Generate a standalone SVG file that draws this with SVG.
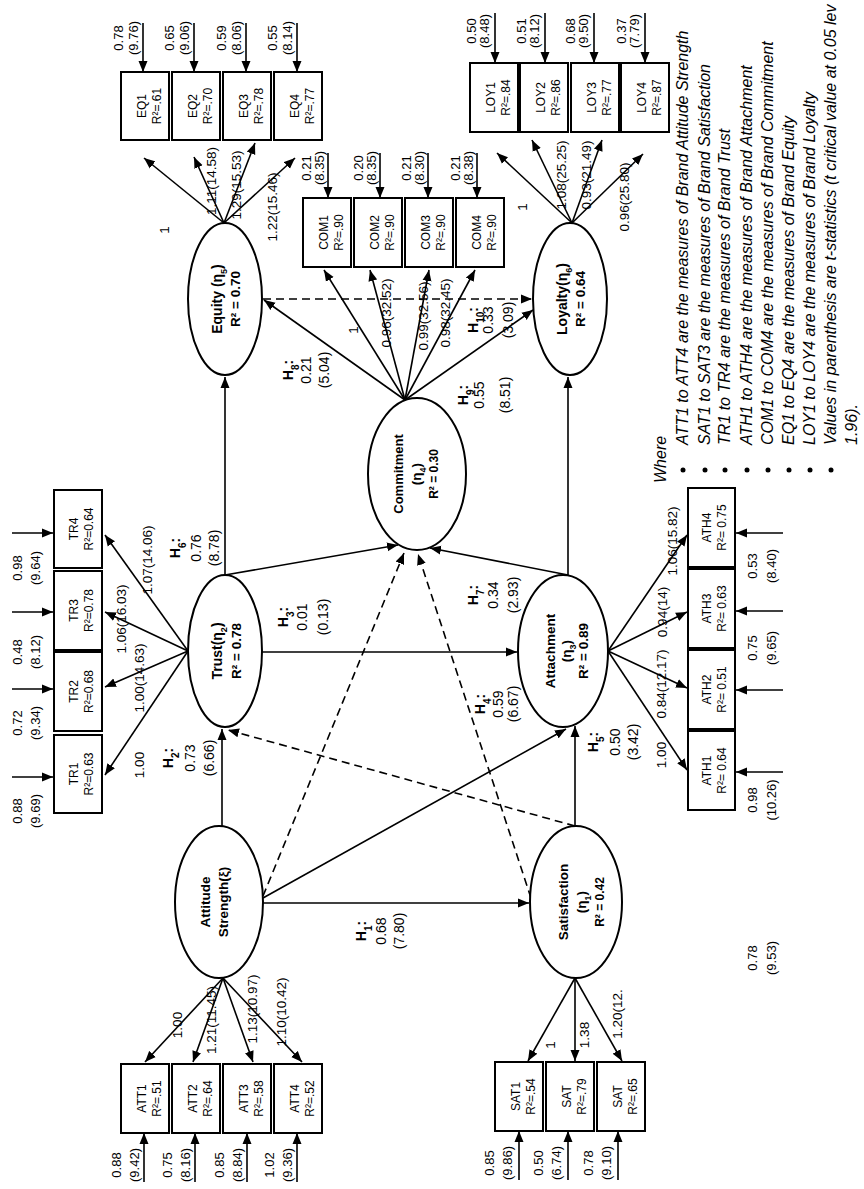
<svg xmlns="http://www.w3.org/2000/svg" width="864" height="1189" viewBox="0 0 864 1189">
<defs>
<style>
.ln{stroke:#000;stroke-width:1.6;fill:none;marker-end:url(#ah)}
.ds{stroke-dasharray:8 5}
.bx{fill:#fff;stroke:#000;stroke-width:2}
.el{fill:#fff;stroke:#000;stroke-width:2}
text{font-family:"Liberation Sans",Arial,sans-serif;fill:#000}
.bt{font-size:12px;text-anchor:middle}
.ld{font-size:13.5px;text-anchor:middle}
.er{font-size:13px;text-anchor:middle}
.hl{font-size:14px;text-anchor:middle}
.hb{font-weight:bold}
.et{font-size:13.5px;font-weight:bold;text-anchor:middle}
.lg{font-size:16px;font-style:italic}
</style>
<marker id="ah" viewBox="0 0 11 10" refX="11" refY="5" markerWidth="11" markerHeight="10" markerUnits="userSpaceOnUse" orient="auto"><path d="M0,0.5 L11,5 L0,9.5 z" fill="#000"/></marker>
</defs>
<rect width="864" height="1189" fill="#fff"/>

<g id="connectors">
<!-- structural paths -->
<line class="ln" x1="225" y1="575" x2="225" y2="377"/>
<line class="ln" x1="568" y1="576" x2="568" y2="377"/>
<line class="ln" x1="225" y1="575" x2="398" y2="545"/>
<line class="ln" x1="568" y1="575" x2="430" y2="548"/>
<line class="ln" x1="262" y1="652" x2="517" y2="652"/>
<line class="ln" x1="222" y1="826" x2="222" y2="729"/>
<line class="ln" x1="575" y1="826" x2="575" y2="726"/>
<line class="ln" x1="263" y1="898" x2="566" y2="729"/>
<line class="ln" x1="263" y1="903" x2="529" y2="903"/>
<line class="ln" x1="405" y1="400" x2="264" y2="300"/>
<line class="ln" x1="405" y1="400" x2="533" y2="310"/>
<line class="ln ds" x1="263" y1="299" x2="532" y2="299"/>
<line class="ln ds" x1="263" y1="896" x2="404" y2="553"/>
<line class="ln ds" x1="531" y1="898" x2="418" y2="554"/>
<line class="ln ds" x1="575" y1="826" x2="228" y2="730"/>
<!-- loadings -->
<line class="ln" x1="224" y1="223" x2="144" y2="158"/>
<line class="ln" x1="224" y1="223" x2="194" y2="157"/>
<line class="ln" x1="224" y1="223" x2="255" y2="143"/>
<line class="ln" x1="224" y1="223" x2="295" y2="158"/>
<line class="ln" x1="572" y1="223" x2="497" y2="153"/>
<line class="ln" x1="572" y1="223" x2="532" y2="140"/>
<line class="ln" x1="572" y1="223" x2="602" y2="140"/>
<line class="ln" x1="572" y1="223" x2="643" y2="154"/>
<line class="ln" x1="405" y1="400" x2="324" y2="270"/>
<line class="ln" x1="405" y1="400" x2="370" y2="270"/>
<line class="ln" x1="405" y1="400" x2="429" y2="270"/>
<line class="ln" x1="405" y1="400" x2="475" y2="270"/>
<line class="ln" x1="188" y1="651" x2="105" y2="535"/>
<line class="ln" x1="188" y1="651" x2="105" y2="612"/>
<line class="ln" x1="188" y1="651" x2="105" y2="687"/>
<line class="ln" x1="188" y1="651" x2="105" y2="775"/>
<line class="ln" x1="608" y1="651" x2="687" y2="535"/>
<line class="ln" x1="608" y1="651" x2="687" y2="612"/>
<line class="ln" x1="608" y1="651" x2="687" y2="688"/>
<line class="ln" x1="608" y1="651" x2="687" y2="770"/>
<line class="ln" x1="223" y1="978" x2="145" y2="1062"/>
<line class="ln" x1="223" y1="978" x2="193" y2="1062"/>
<line class="ln" x1="223" y1="978" x2="253" y2="1062"/>
<line class="ln" x1="223" y1="978" x2="302" y2="1062"/>
<line class="ln" x1="575" y1="978" x2="528" y2="1061"/>
<line class="ln" x1="575" y1="978" x2="575" y2="1061"/>
<line class="ln" x1="575" y1="978" x2="622" y2="1061"/>
<!-- error terms -->
<line class="ln" x1="143" y1="23" x2="143" y2="72"/>
<line class="ln" x1="194" y1="23" x2="194" y2="72"/>
<line class="ln" x1="246" y1="23" x2="246" y2="72"/>
<line class="ln" x1="297" y1="23" x2="297" y2="72"/>
<line class="ln" x1="495" y1="13" x2="495" y2="63"/>
<line class="ln" x1="545" y1="13" x2="545" y2="63"/>
<line class="ln" x1="594" y1="13" x2="594" y2="63"/>
<line class="ln" x1="645" y1="13" x2="645" y2="63"/>
<line class="ln" x1="328" y1="153" x2="328" y2="198"/>
<line class="ln" x1="380" y1="153" x2="380" y2="198"/>
<line class="ln" x1="428" y1="153" x2="428" y2="198"/>
<line class="ln" x1="477" y1="153" x2="477" y2="198"/>
<line class="ln" x1="12" y1="533" x2="53" y2="533"/>
<line class="ln" x1="12" y1="612" x2="53" y2="612"/>
<line class="ln" x1="12" y1="689" x2="53" y2="689"/>
<line class="ln" x1="12" y1="777" x2="53" y2="777"/>
<line class="ln" x1="783" y1="533" x2="736" y2="533"/>
<line class="ln" x1="783" y1="611" x2="736" y2="611"/>
<line class="ln" x1="783" y1="690" x2="736" y2="690"/>
<line class="ln" x1="783" y1="772" x2="736" y2="772"/>
<line class="ln" x1="144" y1="1182" x2="144" y2="1133"/>
<line class="ln" x1="195" y1="1182" x2="195" y2="1133"/>
<line class="ln" x1="247" y1="1182" x2="247" y2="1133"/>
<line class="ln" x1="297" y1="1182" x2="297" y2="1133"/>
<line class="ln" x1="519" y1="1180" x2="519" y2="1131"/>
<line class="ln" x1="568" y1="1180" x2="568" y2="1131"/>
<line class="ln" x1="618" y1="1180" x2="618" y2="1131"/>
</g>

<g id="connector-labels">
<!-- path coefficients -->
<text class="hl" transform="translate(293,370) rotate(-90)"><tspan x="0" y="0" class="hb">H<tspan baseline-shift="sub" font-size="10">8</tspan>:</tspan><tspan x="0" y="18">0.21</tspan><tspan x="0" y="36">(5.04)</tspan></text>
<text class="hl" transform="translate(468,395) rotate(-90)"><tspan x="0" y="0" class="hb">H<tspan baseline-shift="sub" font-size="10">9</tspan>:</tspan><tspan x="0" y="16">0.55</tspan><tspan x="0" y="42">(8.51)</tspan></text>
<text class="hl" transform="translate(478,320) rotate(-90)"><tspan x="0" y="0" class="hb">H<tspan baseline-shift="sub" font-size="10">10</tspan>:</tspan><tspan x="0" y="15">0.33</tspan><tspan x="0" y="35">(3.09)</tspan></text>
<text class="hl" transform="translate(180,548) rotate(-90)"><tspan x="0" y="0" class="hb">H<tspan baseline-shift="sub" font-size="10">6</tspan>:</tspan><tspan x="0" y="21">0.76</tspan><tspan x="0" y="39">(8.78)</tspan></text>
<text class="hl" transform="translate(288,617) rotate(-90)"><tspan x="0" y="0" class="hb">H<tspan baseline-shift="sub" font-size="10">3</tspan>:</tspan><tspan x="0" y="19">0.01</tspan><tspan x="0" y="40">(0.13)</tspan></text>
<text class="hl" transform="translate(478,595) rotate(-90)"><tspan x="0" y="0" class="hb">H<tspan baseline-shift="sub" font-size="10">7</tspan>:</tspan><tspan x="0" y="20">0.34</tspan><tspan x="0" y="40">(2.93)</tspan></text>
<text class="hl" transform="translate(173,758) rotate(-90)"><tspan x="0" y="0" class="hb">H<tspan baseline-shift="sub" font-size="10">2</tspan>:</tspan><tspan x="0" y="22">0.73</tspan><tspan x="0" y="41">(6.66)</tspan></text>
<text class="hl" transform="translate(485,704) rotate(-90)"><tspan x="0" y="0" class="hb">H<tspan baseline-shift="sub" font-size="10">4</tspan>:</tspan><tspan x="0" y="18">0.59</tspan><tspan x="0" y="33">(6.67)</tspan></text>
<text class="hl" transform="translate(598,742) rotate(-90)"><tspan x="0" y="0" class="hb">H<tspan baseline-shift="sub" font-size="10">5</tspan>:</tspan><tspan x="0" y="22">0.50</tspan><tspan x="0" y="40">(3.42)</tspan></text>
<text class="hl" transform="translate(366,931) rotate(-90)"><tspan x="0" y="0" class="hb">H<tspan baseline-shift="sub" font-size="10">1</tspan>:</tspan><tspan x="0" y="20">0.68</tspan><tspan x="0" y="38">(7.80)</tspan></text>
<!-- loadings -->
<text class="ld" transform="translate(169,230) rotate(-90)">1</text>
<text class="ld" transform="translate(216,181) rotate(-90)">1.11(14.58)</text>
<text class="ld" transform="translate(241,185) rotate(-90)">1.29(15.53)</text>
<text class="ld" transform="translate(277,207) rotate(-90)">1.22(15.46)</text>
<text class="ld" transform="translate(527,207) rotate(-90)">1</text>
<text class="ld" transform="translate(566,175) rotate(-90)">1.08(25.25)</text>
<text class="ld" transform="translate(591,175) rotate(-90)">0.93(21.49)</text>
<text class="ld" transform="translate(629,197) rotate(-90)">0.96(25.80)</text>
<text class="ld" transform="translate(358,330) rotate(-90)">1</text>
<text class="ld" transform="translate(391,313) rotate(-90)">0.96(32.52)</text>
<text class="ld" transform="translate(428,316) rotate(-90)">0.99(32.56)</text>
<text class="ld" transform="translate(450,313) rotate(-90)">0.98(32.45)</text>
<text class="ld" transform="translate(152,560) rotate(-90)">1.07(14.06)</text>
<text class="ld" transform="translate(126,619) rotate(-90)">1.06(16.03)</text>
<text class="ld" transform="translate(144,678) rotate(-90)">1.00(14.63)</text>
<text class="ld" transform="translate(144,765) rotate(-90)">1.00</text>
<text class="ld" transform="translate(677,541) rotate(-90)">1.06(15.82)</text>
<text class="ld" transform="translate(667,612) rotate(-90)">0.94(14)</text>
<text class="ld" transform="translate(666,684) rotate(-90)">0.84(12.17)</text>
<text class="ld" transform="translate(666,755) rotate(-90)">1.00</text>
<text class="ld" transform="translate(182,1025) rotate(-90)">1.00</text>
<text class="ld" transform="translate(216,1020) rotate(-90)">1.21(11.45)</text>
<text class="ld" transform="translate(257,1009) rotate(-90)">1.13(10.97)</text>
<text class="ld" transform="translate(286,1012) rotate(-90)">1.10(10.42)</text>
<text class="ld" transform="translate(555,1045) rotate(-90)">1</text>
<text class="ld" transform="translate(589,1035) rotate(-90)">1.38</text>
<text class="ld" transform="translate(622,1014) rotate(-90)">1.20(12.</text>
<!-- error variances -->
<text class="er" transform="translate(123,38) rotate(-90)"><tspan x="0" y="0">0.78</tspan><tspan x="0" y="15">(9.76)</tspan></text>
<text class="er" transform="translate(174,38) rotate(-90)"><tspan x="0" y="0">0.65</tspan><tspan x="0" y="15">(9.06)</tspan></text>
<text class="er" transform="translate(226,38) rotate(-90)"><tspan x="0" y="0">0.59</tspan><tspan x="0" y="15">(8.06)</tspan></text>
<text class="er" transform="translate(277,38) rotate(-90)"><tspan x="0" y="0">0.55</tspan><tspan x="0" y="15">(8.14)</tspan></text>
<text class="er" transform="translate(476,31) rotate(-90)"><tspan x="0" y="0">0.50</tspan><tspan x="0" y="13">(8.48)</tspan></text>
<text class="er" transform="translate(526,31) rotate(-90)"><tspan x="0" y="0">0.51</tspan><tspan x="0" y="13">(8.12)</tspan></text>
<text class="er" transform="translate(575,31) rotate(-90)"><tspan x="0" y="0">0.68</tspan><tspan x="0" y="13">(9.50)</tspan></text>
<text class="er" transform="translate(626,31) rotate(-90)"><tspan x="0" y="0">0.37</tspan><tspan x="0" y="13">(7.79)</tspan></text>
<text class="er" transform="translate(311,168) rotate(-90)"><tspan x="0" y="0">0.21</tspan><tspan x="0" y="13">(8.35)</tspan></text>
<text class="er" transform="translate(363,168) rotate(-90)"><tspan x="0" y="0">0.20</tspan><tspan x="0" y="13">(8.35)</tspan></text>
<text class="er" transform="translate(411,168) rotate(-90)"><tspan x="0" y="0">0.21</tspan><tspan x="0" y="13">(8.30)</tspan></text>
<text class="er" transform="translate(460,168) rotate(-90)"><tspan x="0" y="0">0.21</tspan><tspan x="0" y="13">(8.38)</tspan></text>
<text class="er" transform="translate(22,568) rotate(-90)"><tspan x="0" y="0">0.98</tspan><tspan x="0" y="18">(9.64)</tspan></text>
<text class="er" transform="translate(22,652) rotate(-90)"><tspan x="0" y="0">0.48</tspan><tspan x="0" y="18">(8.12)</tspan></text>
<text class="er" transform="translate(22,723) rotate(-90)"><tspan x="0" y="0">0.72</tspan><tspan x="0" y="18">(9.34)</tspan></text>
<text class="er" transform="translate(22,811) rotate(-90)"><tspan x="0" y="0">0.88</tspan><tspan x="0" y="18">(9.69)</tspan></text>
<text class="er" transform="translate(757,566) rotate(-90)"><tspan x="0" y="0">0.53</tspan><tspan x="0" y="19">(8.40)</tspan></text>
<text class="er" transform="translate(757,648) rotate(-90)"><tspan x="0" y="0">0.75</tspan><tspan x="0" y="19">(9.65)</tspan></text>
<text class="er" transform="translate(757,800) rotate(-90)"><tspan x="0" y="0">0.98</tspan><tspan x="0" y="19">(10.26)</tspan></text>
<text class="er" transform="translate(757,958) rotate(-90)"><tspan x="0" y="0">0.78</tspan><tspan x="0" y="19">(9.53)</tspan></text>
<text class="er" transform="translate(121,1165) rotate(-90)"><tspan x="0" y="0">0.88</tspan><tspan x="0" y="18">(9.42)</tspan></text>
<text class="er" transform="translate(172,1165) rotate(-90)"><tspan x="0" y="0">0.75</tspan><tspan x="0" y="18">(8.16)</tspan></text>
<text class="er" transform="translate(224,1165) rotate(-90)"><tspan x="0" y="0">0.85</tspan><tspan x="0" y="18">(8.84)</tspan></text>
<text class="er" transform="translate(274,1165) rotate(-90)"><tspan x="0" y="0">1.02</tspan><tspan x="0" y="18">(9.36)</tspan></text>
<text class="er" transform="translate(494,1163) rotate(-90)"><tspan x="0" y="0">0.85</tspan><tspan x="0" y="18">(9.86)</tspan></text>
<text class="er" transform="translate(543,1163) rotate(-90)"><tspan x="0" y="0">0.50</tspan><tspan x="0" y="18">(6.74)</tspan></text>
<text class="er" transform="translate(593,1163) rotate(-90)"><tspan x="0" y="0">0.78</tspan><tspan x="0" y="18">(9.10)</tspan></text>
</g>

<!-- latent constructs -->
<g id="equity"><ellipse class="el" cx="225" cy="299" rx="37" ry="76"/><text class="et" transform="translate(222,299) rotate(-90)"><tspan x="0" y="0" font-size="14">Equity (η<tspan baseline-shift="sub" font-size="9">5</tspan>)</tspan><tspan x="0" y="18">R² = 0.70</tspan></text></g>
<g id="loyalty"><ellipse class="el" cx="570" cy="299" rx="37" ry="76"/><text class="et" transform="translate(567,299) rotate(-90)"><tspan x="0" y="0" font-size="14">Loyalty(η<tspan baseline-shift="sub" font-size="9">6</tspan>)</tspan><tspan x="0" y="18">R² = 0.64</tspan></text></g>
<g id="commitment"><ellipse class="el" cx="417" cy="474" rx="49" ry="76"/><text class="et" transform="translate(403,474) rotate(-90)"><tspan x="0" y="0" font-size="13">Commitment</tspan><tspan x="0" y="18">(η<tspan baseline-shift="sub" font-size="9">4</tspan>)</tspan><tspan x="0" y="35" font-size="12">R² = 0.30</tspan></text></g>
<g id="trust"><ellipse class="el" cx="225" cy="651" rx="37" ry="76"/><text class="et" transform="translate(222,651) rotate(-90)"><tspan x="0" y="0" font-size="14">Trust(η<tspan baseline-shift="sub" font-size="9">2</tspan>)</tspan><tspan x="0" y="19">R² = 0.78</tspan></text></g>
<g id="attachment"><ellipse class="el" cx="563" cy="651" rx="45" ry="76"/><text class="et" transform="translate(555,651) rotate(-90)"><tspan x="0" y="0">Attachment</tspan><tspan x="0" y="16">(η<tspan baseline-shift="sub" font-size="9">3</tspan>)</tspan><tspan x="0" y="33">R² = 0.89</tspan></text></g>
<g id="attitude"><ellipse class="el" cx="219" cy="902" rx="44" ry="76"/><text class="et" transform="translate(210,902) rotate(-90)"><tspan x="0" y="0">Attitude</tspan><tspan x="0" y="18">Strength(ξ)</tspan></text></g>
<g id="satisfaction"><ellipse class="el" cx="576" cy="902" rx="46" ry="76"/><text class="et" transform="translate(568,902) rotate(-90)"><tspan x="0" y="0">Satisfaction</tspan><tspan x="0" y="18">(η<tspan baseline-shift="sub" font-size="9">1</tspan>)</tspan><tspan x="0" y="36" font-size="12">R² = 0.42</tspan></text></g>

<!-- indicators -->
<g id="EQ1"><rect class="bx" x="121" y="72" width="48" height="68"/><text class="bt" transform="translate(145.5,106) rotate(-90)"><tspan x="0" y="0">EQ1</tspan><tspan x="0" y="15">R²=.61</tspan></text></g>
<g id="EQ2"><rect class="bx" x="172" y="72" width="48" height="68"/><text class="bt" transform="translate(196.5,106) rotate(-90)"><tspan x="0" y="0">EQ2</tspan><tspan x="0" y="15">R²=.70</tspan></text></g>
<g id="EQ3"><rect class="bx" x="223" y="72" width="48" height="68"/><text class="bt" transform="translate(247.5,106) rotate(-90)"><tspan x="0" y="0">EQ3</tspan><tspan x="0" y="15">R²=.78</tspan></text></g>
<g id="EQ4"><rect class="bx" x="274" y="72" width="48" height="68"/><text class="bt" transform="translate(298.5,106) rotate(-90)"><tspan x="0" y="0">EQ4</tspan><tspan x="0" y="15">R²=.77</tspan></text></g>
<g id="LOY1"><rect class="bx" x="470" y="63" width="48" height="69"/><text class="bt" transform="translate(494.5,97.5) rotate(-90)"><tspan x="0" y="0">LOY1</tspan><tspan x="0" y="15">R²=.84</tspan></text></g>
<g id="LOY2"><rect class="bx" x="520" y="63" width="48" height="69"/><text class="bt" transform="translate(544.5,97.5) rotate(-90)"><tspan x="0" y="0">LOY2</tspan><tspan x="0" y="15">R²=.86</tspan></text></g>
<g id="LOY3"><rect class="bx" x="571" y="63" width="48" height="69"/><text class="bt" transform="translate(595.5,97.5) rotate(-90)"><tspan x="0" y="0">LOY3</tspan><tspan x="0" y="15">R²=.77</tspan></text></g>
<g id="LOY4"><rect class="bx" x="621" y="63" width="48" height="69"/><text class="bt" transform="translate(645.5,97.5) rotate(-90)"><tspan x="0" y="0">LOY4</tspan><tspan x="0" y="15">R²=.87</tspan></text></g>
<g id="COM1"><rect class="bx" x="303" y="198" width="48" height="69"/><text class="bt" transform="translate(327.5,232.5) rotate(-90)"><tspan x="0" y="0">COM1</tspan><tspan x="0" y="15">R²=.90</tspan></text></g>
<g id="COM2"><rect class="bx" x="354" y="198" width="48" height="69"/><text class="bt" transform="translate(378.5,232.5) rotate(-90)"><tspan x="0" y="0">COM2</tspan><tspan x="0" y="15">R²=.90</tspan></text></g>
<g id="COM3"><rect class="bx" x="405" y="198" width="48" height="69"/><text class="bt" transform="translate(429.5,232.5) rotate(-90)"><tspan x="0" y="0">COM3</tspan><tspan x="0" y="15">R²=.90</tspan></text></g>
<g id="COM4"><rect class="bx" x="456" y="198" width="48" height="69"/><text class="bt" transform="translate(480.5,232.5) rotate(-90)"><tspan x="0" y="0">COM4</tspan><tspan x="0" y="15">R²=.90</tspan></text></g>
<g id="TR4"><rect class="bx" x="54" y="490" width="48" height="78"/><text class="bt" transform="translate(77.5,529) rotate(-90)"><tspan x="0" y="0">TR4</tspan><tspan x="0" y="15">R²=0.64</tspan></text></g>
<g id="TR3"><rect class="bx" x="54" y="571" width="48" height="79"/><text class="bt" transform="translate(77.5,610.5) rotate(-90)"><tspan x="0" y="0">TR3</tspan><tspan x="0" y="15">R²=0.78</tspan></text></g>
<g id="TR2"><rect class="bx" x="54" y="652" width="48" height="79"/><text class="bt" transform="translate(77.5,691.5) rotate(-90)"><tspan x="0" y="0">TR2</tspan><tspan x="0" y="15">R²=0.68</tspan></text></g>
<g id="TR1"><rect class="bx" x="54" y="735" width="48" height="78"/><text class="bt" transform="translate(77.5,774) rotate(-90)"><tspan x="0" y="0">TR1</tspan><tspan x="0" y="15">R²=0.63</tspan></text></g>
<g id="ATH4"><rect class="bx" x="688" y="488" width="47" height="79"/><text class="bt" transform="translate(710.5,527.5) rotate(-90)"><tspan x="0" y="0">ATH4</tspan><tspan x="0" y="15">R²= 0.75</tspan></text></g>
<g id="ATH3"><rect class="bx" x="688" y="569" width="47" height="79"/><text class="bt" transform="translate(710.5,608.5) rotate(-90)"><tspan x="0" y="0">ATH3</tspan><tspan x="0" y="15">R²= 0.63</tspan></text></g>
<g id="ATH2"><rect class="bx" x="688" y="650" width="47" height="79"/><text class="bt" transform="translate(710.5,689.5) rotate(-90)"><tspan x="0" y="0">ATH2</tspan><tspan x="0" y="15">R²= 0.51</tspan></text></g>
<g id="ATH1"><rect class="bx" x="688" y="731" width="47" height="79"/><text class="bt" transform="translate(710.5,770.5) rotate(-90)"><tspan x="0" y="0">ATH1</tspan><tspan x="0" y="15">R²= 0.64</tspan></text></g>
<g id="ATT1"><rect class="bx" x="121" y="1064" width="48" height="69"/><text class="bt" transform="translate(145.5,1098.5) rotate(-90)"><tspan x="0" y="0">ATT1</tspan><tspan x="0" y="15">R²=.51</tspan></text></g>
<g id="ATT2"><rect class="bx" x="172" y="1064" width="48" height="69"/><text class="bt" transform="translate(196.5,1098.5) rotate(-90)"><tspan x="0" y="0">ATT2</tspan><tspan x="0" y="15">R²=.64</tspan></text></g>
<g id="ATT3"><rect class="bx" x="223" y="1064" width="48" height="69"/><text class="bt" transform="translate(247.5,1098.5) rotate(-90)"><tspan x="0" y="0">ATT3</tspan><tspan x="0" y="15">R²=.58</tspan></text></g>
<g id="ATT4"><rect class="bx" x="274" y="1064" width="48" height="69"/><text class="bt" transform="translate(298.5,1098.5) rotate(-90)"><tspan x="0" y="0">ATT4</tspan><tspan x="0" y="15">R²=.52</tspan></text></g>
<g id="SAT1"><rect class="bx" x="495" y="1062" width="48" height="69"/><text class="bt" transform="translate(519.5,1096.5) rotate(-90)"><tspan x="0" y="0">SAT1</tspan><tspan x="0" y="15">R²=.54</tspan></text></g>
<g id="SAT2"><rect class="bx" x="546" y="1062" width="48" height="69"/><text class="bt" transform="translate(570.5,1096.5) rotate(-90)"><tspan x="0" y="0">SAT</tspan><tspan x="0" y="15">R²=.79</tspan></text></g>
<g id="SAT3"><rect class="bx" x="597" y="1062" width="48" height="69"/><text class="bt" transform="translate(621.5,1096.5) rotate(-90)"><tspan x="0" y="0">SAT</tspan><tspan x="0" y="15">R²=.65</tspan></text></g>

<!-- key -->
<g id="legend">
<text class="lg" transform="translate(666,483) rotate(-90)">Where</text>
<g fill="#000"><circle cx="683" cy="470" r="2.5"/><circle cx="705" cy="470" r="2.5"/><circle cx="725" cy="470" r="2.5"/><circle cx="747" cy="470" r="2.5"/><circle cx="768" cy="470" r="2.5"/><circle cx="789" cy="470" r="2.5"/><circle cx="810" cy="470" r="2.5"/><circle cx="831" cy="470" r="2.5"/></g>
<text class="lg" transform="translate(688,445) rotate(-90)">ATT1 to ATT4 are the measures of Brand Attitude Strength</text>
<text class="lg" transform="translate(710,445) rotate(-90)">SAT1 to SAT3 are the measures of Brand Satisfaction</text>
<text class="lg" transform="translate(730,445) rotate(-90)">TR1 to TR4 are the measures of Brand Trust</text>
<text class="lg" transform="translate(752,445) rotate(-90)">ATH1 to ATH4 are the measures of Brand Attachment</text>
<text class="lg" transform="translate(773,445) rotate(-90)">COM1 to COM4 are the measures of Brand Commitment</text>
<text class="lg" transform="translate(794,445) rotate(-90)">EQ1 to EQ4 are the measures of Brand Equity</text>
<text class="lg" transform="translate(815,445) rotate(-90)">LOY1 to LOY4 are the measures of Brand Loyalty</text>
<text class="lg" transform="translate(836,445) rotate(-90)">Values in parenthesis are t-statistics (t critical value at 0.05 lev</text>
<text class="lg" transform="translate(857,445) rotate(-90)">1.96).</text>
</g>
</svg>
